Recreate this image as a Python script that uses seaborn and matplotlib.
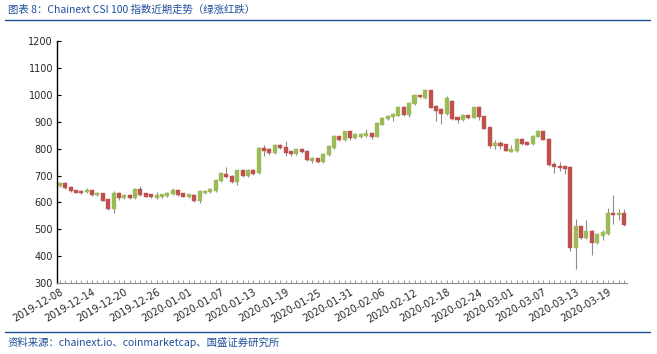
import numpy as np
import pandas as pd
import matplotlib.pyplot as plt
import seaborn as sns

# daily candles, 2019-12-08 .. 2020-03-22
start_date = '2019-12-08'
opens = [660, 674, 659, 646, 644, 639, 646, 627, 635, 612,
         574, 635, 615, 629, 615, 651, 634, 630, 615, 619,
         624, 631, 646, 634, 620, 629, 604, 634, 639, 641,
         679, 706, 699, 675, 719, 697, 721, 709, 801, 800,
         784, 812, 807, 790, 780, 797, 792, 754, 764, 750,
         776, 802, 846, 832, 865, 840, 842, 847, 857, 844,
         889, 909, 916, 922, 955, 926, 965, 999, 990, 1017,
         957, 946, 930, 976, 916, 906, 924, 915, 954, 920,
         879, 810, 822, 816, 789, 791, 837, 824, 817, 844,
         865, 837, 744, 737, 734, 732, 431, 511, 469, 494,
         450, 476, 482, 561, 552, 561]
closes = [672, 654, 641, 637, 634, 647, 626, 636, 607, 574,
          636, 615, 629, 615, 651, 626, 622, 619, 626, 630,
          636, 647, 626, 622, 630, 604, 642, 644, 649, 684,
          709, 694, 675, 719, 697, 721, 705, 801, 791, 784,
          812, 802, 784, 780, 797, 787, 757, 765, 750, 781,
          809, 846, 832, 865, 840, 854, 854, 859, 844, 895,
          914, 922, 930, 955, 926, 970, 999, 991, 1017, 952,
          940, 930, 989, 911, 907, 924, 915, 954, 916, 875,
          810, 822, 810, 792, 797, 837, 817, 814, 847, 865,
          834, 739, 732, 729, 725, 431, 511, 469, 494, 450,
          482, 490, 561, 552, 561, 517]
highs = [675, 677, 661, 648, 646, 652, 648, 639, 637, 614,
         642, 640, 631, 631, 653, 662, 637, 632, 640, 632,
         640, 655, 648, 636, 633, 631, 645, 646, 654, 686,
         712, 731, 701, 721, 724, 723, 723, 805, 813, 803,
         816, 818, 827, 793, 799, 801, 794, 770, 766, 783,
         812, 849, 848, 867, 867, 859, 857, 872, 859, 898,
         916, 925, 933, 957, 958, 975, 1004, 1001, 1022, 1019,
         962, 950, 995, 980, 918, 928, 926, 956, 957, 922,
         881, 834, 827, 819, 815, 839, 839, 827, 850, 868,
         867, 839, 752, 752, 737, 734, 537, 514, 534, 496,
         486, 498, 580, 626, 575, 575]
lows = [657, 651, 638, 634, 631, 637, 624, 624, 604, 571,
        560, 610, 612, 613, 613, 624, 619, 617, 612, 617,
        621, 629, 624, 619, 617, 602, 598, 632, 637, 639,
        676, 690, 672, 665, 694, 695, 702, 707, 771, 775,
        781, 800, 774, 772, 777, 784, 754, 745, 747, 748,
        774, 800, 830, 830, 833, 837, 839, 845, 837, 842,
        887, 906, 904, 920, 923, 919, 963, 989, 985, 950,
        902, 892, 925, 906, 896, 904, 912, 913, 906, 872,
        803, 797, 797, 790, 787, 789, 812, 812, 815, 842,
        831, 736, 710, 718, 705, 420, 354, 465, 466, 406,
        447, 462, 478, 520, 535, 513]

y_ticks = [300, 400, 500, 600, 700, 800, 900, 1000, 1100, 1200]
title_text = '图表 8：Chainext CSI 100 指数近期走势（绿涨红跌）'
source_text = '资料来源：chainext.io、coinmarketcap、国盛证券研究所'

df = pd.DataFrame({'open': opens, 'close': closes, 'high': highs, 'low': lows})
df['date'] = pd.date_range(start_date, periods=len(df), freq='D')
df['pos'] = np.arange(len(df))
df['up'] = df['close'] >= df['open']

sns.set_theme(style='white')
plt.rcParams['font.family'] = ['Noto Sans CJK SC', 'DejaVu Sans']

green = '#9BBB59'
red = '#C0504D'

fig = plt.figure(figsize=(6.57, 3.54), dpi=100)
ax = fig.add_axes([0.087, 0.200, 0.867, 0.684])

# wicks
ax.vlines(df['pos'], df['low'], df['high'], color='#8c8c8c', linewidth=0.8, zorder=1)
# bodies
colors = np.where(df['up'], green, red)
bottoms = np.minimum(df['open'], df['close'])
heights = np.maximum(np.abs(df['close'] - df['open']), 2)
ax.bar(df['pos'], heights, bottom=bottoms, width=0.75, color=colors,
       edgecolor=colors, linewidth=0.3, zorder=2)

ax.set_xlim(-0.5, len(df) - 0.5)
ax.set_ylim(300, 1200)
ax.set_yticks(y_ticks)
ax.set_yticklabels([str(v) for v in y_ticks], fontsize=7, family='DejaVu Sans')

lab_pos = df['pos'][::6]
ax.set_xticks(lab_pos)
ax.set_xticklabels(df['date'][::6].dt.strftime('%Y-%m-%d'), rotation=30,
                   ha='right', rotation_mode='anchor', fontsize=7, family='DejaVu Sans')
ax.set_xticks(df['pos'], minor=True)
ax.tick_params(axis='x', which='both', direction='in', length=2.5, width=0.6,
               color='#8c8c8c', bottom=True, pad=3)
ax.tick_params(axis='y', direction='in', length=3, width=0.8, color='black',
               left=True, pad=3)

for side in ['top', 'right']:
    ax.spines[side].set_visible(False)
ax.spines['left'].set_color('black')
ax.spines['left'].set_linewidth(1.0)
ax.spines['bottom'].set_color('#8c8c8c')
ax.spines['bottom'].set_linewidth(0.8)
ax.grid(False)

# header and footer
blue = '#1F4E9A'
fig.text(0.012, 0.972, title_text, fontsize=7.5, color=blue, style='italic',
         ha='left', va='center')
fig.add_artist(plt.Line2D([0.008, 0.99], [0.943, 0.943], color=blue, linewidth=1.0))
fig.add_artist(plt.Line2D([0.008, 0.99], [0.062, 0.062], color=blue, linewidth=1.0))
fig.text(0.012, 0.033, source_text, fontsize=7.5, color=blue, style='italic',
         ha='left', va='center')

fig.savefig('out.png', dpi=100)
